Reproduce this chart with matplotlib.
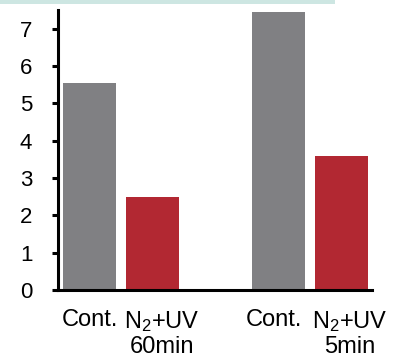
import matplotlib
matplotlib.use("Agg")
import matplotlib.pyplot as plt
from matplotlib.patches import Rectangle

plt.rcParams['font.family'] = ['Liberation Sans', 'DejaVu Sans']
plt.rcParams['mathtext.fontset'] = 'custom'
plt.rcParams['mathtext.rm'] = 'Liberation Sans'
plt.rcParams['mathtext.it'] = 'Liberation Sans'

categories = ["Cont.", "N$_2$+UV\n60min", "Cont.", "N$_2$+UV\n5min"]
values = [5.55, 2.5, 7.45, 3.6]
colors = ["#808083", "#b22832", "#808083", "#b22832"]
yticks = [0, 1, 2, 3, 4, 5, 6, 7]

positions = [0, 1, 3, 4]
label_pos = [0, 1.15, 2.92, 4.13]

fig = plt.figure(figsize=(4.01, 3.59), dpi=100)
fig.patches.append(Rectangle((0, 1 - 4/359), 335/401, 4/359, transform=fig.transFigure,
                             facecolor="#cde6e2", edgecolor="none"))
ax = fig.add_axes([58/401, 69/359, (372-58)/401, 280/359])
ax.bar(positions, values, width=0.84, color=colors)
ax.set_xlim(-0.5, 4.48)
ax.set_ylim(0, 7.5)
ax.set_yticks(yticks)
ax.set_yticklabels([str(t) for t in yticks], fontsize=16)
ax.set_xticks(label_pos)
ax.set_xticklabels(categories, fontsize=17, linespacing=1.1)
for s in ["top", "right"]:
    ax.spines[s].set_visible(False)
for s in ["left", "bottom"]:
    ax.spines[s].set_linewidth(2.2)
ax.tick_params(axis='y', length=4.5, width=2.2, pad=14)
ax.tick_params(axis='x', length=0, pad=14)
fig.savefig("out.png", dpi=100)
